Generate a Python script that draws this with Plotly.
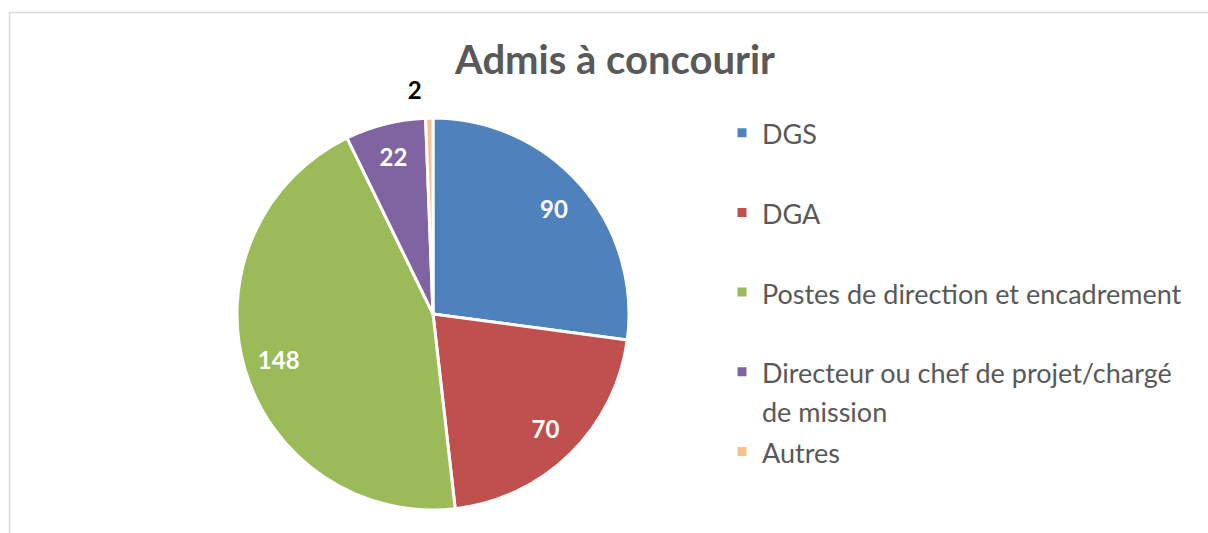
import plotly.graph_objects as go

W, H = 1208, 533

labels = ["DGS", "DGA", "Postes de direction et encadrement",
          "Directeur ou chef de projet/chargé<br>de mission", "Autres"]
values = [90, 70, 148, 22, 2]
colors = ["#4F81BD", "#C0504D", "#9BBB59", "#8064A2", "#FAC090"]
text_positions = ["inside", "inside", "inside", "inside", "outside"]
text_colors = ["white", "white", "white", "white", "black"]
label_pull = [0, 0, 0, 0, 0.07]

LEG_FS = 29.5   # controls legend item pitch
VIS_FS = 27     # visible legend text size

def legend_text(lbl):
    lines = lbl.split("<br>")
    while len(lines) < 2:
        lines.append("&nbsp;")
    return "<br>".join(f"<span style='font-size:{VIS_FS}px'>{l}</span>" for l in lines)

legend_labels = [legend_text(l) for l in labels]

cx, cy, r = 433, 314, 196
P = max(label_pull)
R2 = r * (1 + P)

def dom(rad):
    return dict(x=[(cx - rad) / W, (cx + rad) / W],
                y=[(H - cy - rad) / H, (H - cy + rad) / H])

# the pie itself
pie = go.Pie(
    labels=legend_labels, values=values, sort=False,
    direction="clockwise", rotation=0,
    marker=dict(colors=colors, line=dict(color="white", width=3)),
    textinfo="none", domain=dom(r), hoverinfo="value+percent",
)

# transparent ring carrying the value labels at Excel-like radius
ring = go.Pie(
    labels=legend_labels, values=values, sort=False,
    direction="clockwise", rotation=0, hole=0.64,
    pull=label_pull,
    marker=dict(colors=["rgba(0,0,0,0)"] * len(values), line=dict(width=0)),
    textinfo="value", textposition=text_positions,
    insidetextorientation="horizontal",
    textfont=dict(family="Lato", size=24, color=text_colors, weight="bold"),
    insidetextfont=dict(family="Lato", size=24, color="white", weight="bold"),
    outsidetextfont=dict(family="Lato", size=24, color="black", weight="bold"),
    domain=dom(R2), showlegend=False, hoverinfo="skip",
)

fig = go.Figure([pie, ring])

fig.update_layout(
    width=W, height=H,
    margin=dict(l=0, r=0, t=0, b=0, autoexpand=False),
    paper_bgcolor="white",
    plot_bgcolor="white",
    font=dict(family="Lato", color="#595959"),
    title=dict(text="<b>Admis à concourir</b>", x=615 / W, xanchor="center",
               y=1 - 60 / H, yanchor="middle",
               font=dict(family="Lato", size=40, color="#595959")),
    legend=dict(x=722 / W, xanchor="left", y=1 - 107 / H, yanchor="top",
                valign="top", font=dict(family="Lato", size=LEG_FS, color="#595959"),
                bgcolor="rgba(0,0,0,0)", traceorder="normal"),
    shapes=[dict(type="rect", xref="paper", yref="paper",
                 x0=9.5 / W, x1=1.2, y0=-0.2, y1=1 - 12.5 / H,
                 line=dict(color="#D9D9D9", width=1.5), fillcolor="rgba(0,0,0,0)",
                 layer="below")],
)

fig.write_html("out.html", config={"displayModeBar": False},
               post_script="document.body.style.margin='0';")
